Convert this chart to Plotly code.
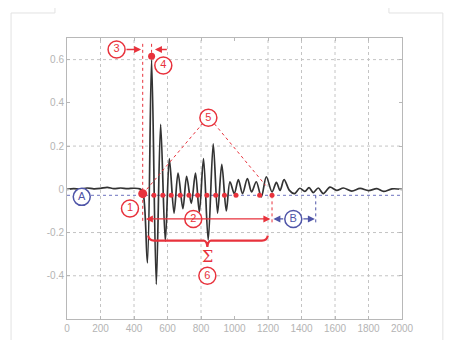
import plotly.graph_objects as go

# ---------------- data ----------------
WAVE_X = [0, 40, 80, 120, 160, 200, 240, 280, 320, 360, 400, 435, 452,
          480, 505, 533, 559, 587, 611, 639, 663, 692, 714, 742, 767, 790,
          815, 843, 873, 899, 924, 951, 973, 999, 1023, 1048, 1077, 1102,
          1130, 1160, 1190, 1224, 1250, 1272, 1296, 1328, 1358, 1390, 1420,
          1445, 1470, 1500, 1530, 1570, 1610, 1650, 1700, 1750, 1800, 1850,
          1890, 1940, 2000]
WAVE_Y = [0.0, 0.003, 0.001, 0.006, 0.002, 0.004, 0.009, 0.003, 0.006,
          0.003, 0.005, 0.002, -0.01,
          -0.34, 0.60, -0.44, 0.30, -0.24, 0.142, -0.11, 0.075, -0.09, 0.06,
          -0.065, 0.075, -0.105, 0.142, -0.235, 0.21, -0.11, 0.115, -0.10,
          0.035, -0.02, 0.045, -0.02, 0.05, -0.012, 0.035, -0.035, 0.058,
          -0.012, 0.032, -0.005, 0.045, -0.005, -0.02, 0.005, -0.01, 0.008,
          -0.015, 0.006, -0.02, 0.01, -0.005, 0.006, -0.008, 0.004, -0.006,
          0.003, -0.01, 0.002, 0.0]

X_TICKS = [0, 200, 400, 600, 800, 1000, 1200, 1400, 1600, 1800, 2000]
Y_TICKS = [-0.4, -0.2, 0, 0.2, 0.4, 0.6]
Y_TICK_TEXT = ["-0.4", "-0.2", "0", "0.2", "0.4", "0.6"]
GRID_X = [200, 400, 600, 800, 1200, 1400, 1600, 1800]
GRID_Y = [-0.4, -0.2, 0.2, 0.6]

BASE_LEVEL = -0.028           # blue dashed reference level
ZERO_DOTS_X = [519, 572, 622, 676, 728, 780, 835, 888, 940, 1009, 1150, 1224]
ONSET_X = 452                 # marker 1 / start of signal
PEAK_X, PEAK_Y = 505, 0.615   # marker 4
END_X = 1224                  # end of signal
NOISE_END_X = 1485            # end of B window

RED_LABELS = ["1", "2", "3", "4", "5", "6"]
RED_LX = [376, 754, 296, 575, 844, 838]
RED_LY = [-0.089, -0.137, 0.647, 0.573, 0.331, -0.40]
BLUE_LABELS = ["A", "B"]
BLUE_LX = [88, 1351]
BLUE_LY = [-0.035, -0.137]

BRACE_X0, BRACE_X1, BRACE_MID = 485, 1199, 838
BRACE_TOP, BRACE_LINE, BRACE_TIP = -0.214, -0.237, -0.266

RED = "#e8323c"
BLUE = "#4f55a8"
GRAY_TXT = "#b4b4b4"
FRAME = "#b8b8b8"

fig = go.Figure()

# reference level
fig.add_trace(go.Scatter(x=[0, 2000], y=[BASE_LEVEL, BASE_LEVEL], mode="lines",
                         line=dict(color="#8a8fcc", width=1.2, dash="dot"),
                         hoverinfo="skip", showlegend=False))

# waveform
fig.add_trace(go.Scatter(x=WAVE_X, y=WAVE_Y, mode="lines",
                         line=dict(color="#333333", width=1.7, shape="spline",
                                   smoothing=0.9),
                         showlegend=False))

# red dots on reference level
fig.add_trace(go.Scatter(x=ZERO_DOTS_X, y=[BASE_LEVEL] * len(ZERO_DOTS_X),
                         mode="markers", marker=dict(color=RED, size=5),
                         showlegend=False))
fig.add_trace(go.Scatter(x=[ONSET_X], y=[BASE_LEVEL + 0.008], mode="markers",
                         marker=dict(color=RED, size=9), showlegend=False))
fig.add_trace(go.Scatter(x=[PEAK_X], y=[PEAK_Y], mode="markers",
                         marker=dict(color=RED, size=7), showlegend=False))

# circled labels
fig.add_trace(go.Scatter(x=RED_LX, y=RED_LY, mode="markers+text", text=RED_LABELS,
                         textposition="middle center",
                         textfont=dict(color=RED, size=11, family="Liberation Sans"),
                         marker=dict(size=17, color="white",
                                     line=dict(color=RED, width=1.5)),
                         showlegend=False))
fig.add_trace(go.Scatter(x=BLUE_LX, y=BLUE_LY, mode="markers+text", text=BLUE_LABELS,
                         textposition="middle center",
                         textfont=dict(color=BLUE, size=11, family="Liberation Sans"),
                         marker=dict(size=17, color="white",
                                     line=dict(color=BLUE, width=1.5)),
                         showlegend=False))

shapes = []
for gx in GRID_X:
    shapes.append(dict(type="line", xref="x", yref="paper", x0=gx, x1=gx, y0=0, y1=1,
                       line=dict(color="#c4c4c4", width=1, dash="dot"), layer="below"))
for gy in GRID_Y:
    shapes.append(dict(type="line", xref="paper", yref="y", x0=0, x1=1, y0=gy, y1=gy,
                       line=dict(color="#c4c4c4", width=1, dash="dot"), layer="below"))

# red dotted verticals
shapes.append(dict(type="line", x0=ONSET_X, x1=ONSET_X, y0=0.673, y1=-0.15,
                   line=dict(color=RED, width=1, dash="dot")))
shapes.append(dict(type="line", x0=PEAK_X, x1=PEAK_X, y0=0.673, y1=0.63,
                   line=dict(color=RED, width=1, dash="dot")))
shapes.append(dict(type="line", x0=END_X, x1=END_X, y0=BASE_LEVEL, y1=-0.165,
                   line=dict(color=RED, width=1, dash="dot")))
shapes.append(dict(type="line", x0=NOISE_END_X, x1=NOISE_END_X, y0=BASE_LEVEL, y1=-0.165,
                   line=dict(color=BLUE, width=1, dash="dot")))
# label 5 leaders
shapes.append(dict(type="line", x0=476, y0=0.0, x1=808, y1=0.303,
                   line=dict(color=RED, width=1, dash="dot")))
shapes.append(dict(type="line", x0=880, y0=0.303, x1=1186, y1=0.018,
                   line=dict(color=RED, width=1, dash="dot")))
# brace
brace = (f"M {BRACE_X0},{BRACE_TOP} Q {BRACE_X0 + 5},{BRACE_LINE} {BRACE_X0 + 35},{BRACE_LINE} "
         f"L {BRACE_MID - 22},{BRACE_LINE} Q {BRACE_MID - 3},{BRACE_LINE - 0.003} {BRACE_MID},{BRACE_TIP} "
         f"Q {BRACE_MID + 3},{BRACE_LINE - 0.003} {BRACE_MID + 22},{BRACE_LINE} "
         f"L {BRACE_X1 - 35},{BRACE_LINE} Q {BRACE_X1 - 5},{BRACE_LINE} {BRACE_X1},{BRACE_TOP}")
shapes.append(dict(type="path", path=brace, line=dict(color=RED, width=2.2)))

# light page frame around the figure
pf = dict(color="#e2e2e2", width=1)
shapes += [
    dict(type="line", xref="paper", yref="paper", x0=-0.167, x1=-0.036, y0=1.089, y1=1.089, line=pf),
    dict(type="line", xref="paper", yref="paper", x0=-0.036, x1=-0.036, y0=1.089, y1=1.117, line=pf),
    dict(type="line", xref="paper", yref="paper", x0=0.961, x1=1.122, y0=1.089, y1=1.089, line=pf),
    dict(type="line", xref="paper", yref="paper", x0=0.961, x1=0.961, y0=1.089, y1=1.117, line=pf),
    dict(type="line", xref="paper", yref="paper", x0=-0.167, x1=-0.167, y0=1.089, y1=-0.08, line=pf),
    dict(type="line", xref="paper", yref="paper", x0=1.122, x1=1.122, y0=1.089, y1=-0.08, line=pf),
]

def arrow(x, y, ax, ay, color, both=False):
    d = dict(x=x, y=y, ax=ax, ay=ay, xref="x", yref="y", axref="x", ayref="y",
             text="", showarrow=True, arrowhead=2, arrowsize=1, arrowwidth=1.4,
             arrowcolor=color, standoff=0, startstandoff=0)
    if both:
        d.update(arrowside="end+start", startarrowhead=2, startarrowsize=1)
    return d

annotations = [
    arrow(442, 0.647, 346, 0.647, RED),
    arrow(525, 0.647, 605, 0.647, RED),
    arrow(1214, -0.137, 462, -0.137, RED, both=True),
    arrow(1232, -0.137, 1300, -0.137, BLUE),
    arrow(1480, -0.137, 1402, -0.137, BLUE),
    dict(x=BRACE_MID, y=-0.31, xref="x", yref="y", text="Σ", showarrow=False,
         font=dict(color=RED, size=16, family="DejaVu Serif")),
]

fig.update_layout(
    width=444, height=332,
    margin=dict(l=59, r=50, t=30, b=21, autoexpand=False),
    paper_bgcolor="white", plot_bgcolor="white",
    shapes=shapes, annotations=annotations,
    font=dict(family="Liberation Sans", color=GRAY_TXT, size=10),
)
fig.update_xaxes(range=[0, 2000], tickvals=X_TICKS, showgrid=False, zeroline=False,
                 automargin=False,
                 showline=True, linecolor=FRAME, linewidth=1, mirror="ticks",
                 ticks="inside", ticklen=3, tickcolor=FRAME,
                 tickfont=dict(color=GRAY_TXT, size=10))
fig.update_yaxes(range=[-0.6, 0.7], tickvals=Y_TICKS, ticktext=Y_TICK_TEXT,
                 showgrid=False, zeroline=False, automargin=False,
                 showline=True, linecolor=FRAME, linewidth=1, mirror="ticks",
                 ticks="inside", ticklen=3, tickcolor=FRAME,
                 tickfont=dict(color=GRAY_TXT, size=10))

fig.write_html("out.html")
